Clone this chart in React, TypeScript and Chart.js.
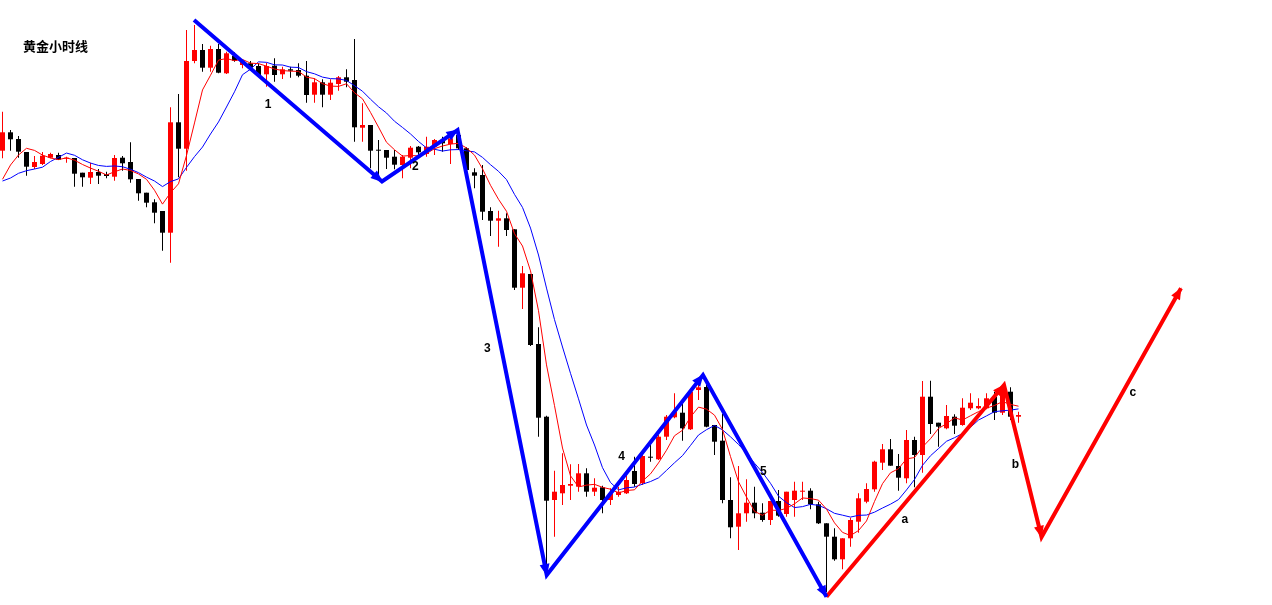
import React, { useEffect, useRef } from "react";
import { Chart, registerables } from "chart.js";

Chart.register(...registerables);

// Closes of the hours before the first visible candle (only feed the moving averages)
const priorCloses = [1325.07, 1322.13, 1322.73, 1324.10, 1324.62, 1320.92, 1321.83, 1321.98, 1326.85];

const open = [
  1326.93, 1328.77, 1328.10, 1326.80, 1325.30, 1325.60, 1326.23, 1326.50, 1326.13, 1326.20,
  1324.73, 1324.23, 1324.80, 1324.60, 1324.33, 1326.23, 1325.80, 1324.10, 1322.73, 1321.77,
  1320.90, 1318.73, 1329.77, 1327.13, 1335.90, 1337.00, 1335.23, 1337.10, 1334.67, 1336.43,
  1335.50, 1335.67, 1335.40, 1334.57, 1335.43, 1334.57, 1335.07, 1335.00, 1334.43, 1332.53,
  1333.77, 1332.53, 1333.60, 1334.27, 1334.00, 1329.23, 1329.50, 1327.00, 1327.00, 1326.33,
  1325.50, 1326.23, 1327.33, 1326.60, 1327.33, 1328.00, 1327.60, 1328.50, 1327.17, 1324.77,
  1324.50, 1320.90, 1319.93, 1320.17, 1319.07, 1313.23, 1314.60, 1307.60, 1300.33, 1292.00,
  1292.67, 1293.43, 1293.33, 1294.67, 1292.83, 1293.27, 1292.00, 1292.50, 1292.67, 1294.90,
  1293.67, 1296.33, 1296.07, 1298.33, 1300.27, 1300.73, 1299.07, 1303.00, 1303.30, 1299.50,
  1297.93, 1292.00, 1289.33, 1290.67, 1291.73, 1290.73, 1290.00, 1291.90, 1290.60, 1292.00,
  1292.83, 1292.93, 1291.57, 1289.67, 1288.33, 1286.07, 1288.17, 1289.83, 1291.83, 1293.07,
  1295.73, 1297.07, 1295.40, 1294.17, 1298.00, 1296.50, 1302.33, 1299.73, 1299.17, 1300.33,
  1299.50, 1301.17, 1301.17, 1301.17, 1302.33, 1300.73, 1302.83, 1300.33,
];

const high = [
  1330.83, 1329.00, 1328.40, 1326.80, 1326.40, 1326.80, 1326.73, 1326.73, 1326.33, 1326.20,
  1324.73, 1325.73, 1325.10, 1324.83, 1326.50, 1326.40, 1327.77, 1324.10, 1322.73, 1322.07,
  1320.90, 1331.27, 1332.60, 1339.00, 1339.50, 1337.60, 1337.43, 1337.60, 1336.83, 1336.77,
  1336.07, 1335.90, 1335.67, 1335.73, 1336.17, 1335.33, 1335.33, 1335.67, 1335.90, 1334.17,
  1334.07, 1334.07, 1334.40, 1335.07, 1338.10, 1331.67, 1329.50, 1328.00, 1327.00, 1327.00,
  1326.50, 1327.40, 1327.40, 1328.33, 1328.10, 1328.33, 1328.73, 1329.00, 1327.27, 1325.17,
  1325.50, 1321.27, 1320.93, 1320.67, 1319.07, 1315.40, 1314.60, 1309.27, 1300.43, 1294.93,
  1296.67, 1295.57, 1295.60, 1295.17, 1294.17, 1293.43, 1293.17, 1293.33, 1294.90, 1296.33,
  1296.50, 1297.50, 1298.50, 1300.50, 1302.67, 1301.67, 1303.00, 1304.00, 1303.50, 1299.50,
  1300.60, 1294.27, 1295.40, 1294.07, 1293.33, 1291.67, 1291.90, 1293.00, 1292.83, 1293.83,
  1293.83, 1293.17, 1291.83, 1289.67, 1289.17, 1288.17, 1290.23, 1292.67, 1293.67, 1295.93,
  1297.60, 1298.10, 1296.60, 1299.00, 1298.33, 1303.90, 1303.93, 1299.73, 1301.50, 1300.57,
  1302.17, 1302.67, 1302.17, 1302.67, 1302.83, 1303.33, 1303.27, 1300.83,
];

const low = [
  1326.17, 1326.93, 1326.23, 1324.43, 1325.10, 1325.50, 1326.17, 1326.00, 1325.73, 1323.33,
  1323.33, 1323.60, 1323.60, 1324.17, 1323.93, 1324.93, 1323.73, 1321.93, 1321.27, 1319.67,
  1316.93, 1315.73, 1324.27, 1324.93, 1335.67, 1334.83, 1334.83, 1334.67, 1334.60, 1335.83,
  1335.17, 1335.10, 1334.33, 1333.33, 1333.83, 1334.10, 1334.23, 1334.27, 1331.73, 1331.73,
  1331.27, 1332.00, 1332.93, 1333.27, 1327.83, 1327.83, 1325.17, 1324.33, 1325.10, 1325.07,
  1324.17, 1325.17, 1326.33, 1326.33, 1326.50, 1326.83, 1325.60, 1327.00, 1324.83, 1323.17,
  1320.00, 1318.40, 1317.33, 1318.40, 1313.00, 1311.10, 1307.40, 1298.33, 1285.40, 1288.33,
  1291.50, 1292.00, 1292.83, 1292.33, 1292.40, 1290.67, 1291.50, 1292.33, 1292.60, 1293.33,
  1293.50, 1295.83, 1296.00, 1298.00, 1300.17, 1297.93, 1299.00, 1302.00, 1299.27, 1296.50,
  1291.67, 1288.17, 1287.00, 1289.83, 1290.17, 1289.83, 1289.50, 1290.33, 1290.33, 1290.33,
  1292.00, 1291.07, 1289.60, 1282.80, 1285.93, 1285.07, 1287.33, 1288.73, 1291.67, 1292.83,
  1295.00, 1295.43, 1292.93, 1293.67, 1293.27, 1294.73, 1298.60, 1297.33, 1299.07, 1298.60,
  1299.43, 1301.00, 1301.07, 1301.07, 1300.00, 1300.50, 1300.00, 1299.73,
];

const close = [
  1328.77, 1328.07, 1326.83, 1325.33, 1325.80, 1326.43, 1326.60, 1326.03, 1326.23, 1324.63,
  1324.27, 1324.80, 1324.43, 1324.40, 1326.20, 1325.67, 1324.07, 1322.67, 1321.73, 1320.73,
  1318.73, 1329.77, 1327.13, 1335.90, 1337.00, 1335.23, 1337.10, 1334.73, 1336.67, 1335.93,
  1335.83, 1335.27, 1334.50, 1335.40, 1334.50, 1335.07, 1334.93, 1334.43, 1332.50, 1333.77,
  1332.53, 1333.73, 1334.27, 1333.83, 1329.27, 1329.50, 1326.93, 1326.93, 1326.23, 1325.53,
  1326.33, 1327.23, 1326.77, 1327.33, 1328.00, 1327.67, 1328.17, 1327.17, 1325.00, 1324.43,
  1320.83, 1319.93, 1320.17, 1319.00, 1313.23, 1314.67, 1307.50, 1300.23, 1291.93, 1292.83,
  1293.50, 1293.60, 1294.67, 1292.83, 1293.23, 1292.00, 1292.67, 1292.83, 1294.00, 1293.60,
  1296.40, 1296.23, 1298.33, 1300.33, 1300.83, 1299.17, 1302.83, 1303.27, 1299.33, 1297.83,
  1292.00, 1289.27, 1290.67, 1291.73, 1290.67, 1290.00, 1291.90, 1290.43, 1292.83, 1292.93,
  1292.93, 1291.57, 1289.67, 1288.33, 1286.07, 1288.17, 1290.00, 1292.17, 1293.10, 1295.83,
  1297.07, 1295.43, 1294.23, 1298.00, 1296.50, 1302.33, 1299.60, 1299.33, 1300.40, 1299.43,
  1301.23, 1301.73, 1301.40, 1302.17, 1300.73, 1303.17, 1300.33, 1300.50,
];

// Wave annotation pivots (candle index, price)
const blueWaveX = [23.94, 47.44, 56.88, 68.03, 87.56, 103.0];
const blueWaveY = [1340.0, 1323.85, 1329.0, 1284.5, 1304.5, 1282.33];
const redWaveX = [103.0, 125.19, 129.88, 147.31];
const redWaveY = [1282.33, 1303.5, 1288.3, 1313.17];

const waveLabels = ["1", "2", "3", "4", "5", "a", "b", "c"];
const labelX = [33.2, 51.6, 60.6, 77.4, 95.1, 112.8, 126.6, 141.3];
const labelY = [1331.5, 1325.3, 1307.1, 1296.3, 1294.8, 1290.0, 1295.5, 1302.7];

const title = "黄金小时线";

const X_MIN = -0.3125;
const X_MAX = 158.6875;
const Y_MIN = 1281.5;
const Y_MAX = 1342;

function sma(values: number[], period: number, skip: number): number[] {
  const out: number[] = [];
  for (let i = skip; i < values.length; i++) {
    let s = 0;
    for (let k = 0; k < period; k++) s += values[i - k];
    out.push(s / period);
  }
  return out;
}

const annotPlugin = {
  id: "waveAnnot",
  afterDatasetsDraw(chart: any) {
    const ctx = chart.ctx as CanvasRenderingContext2D;
    chart.data.datasets.forEach((ds: any, di: number) => {
      if (!ds.arrowHeads) return;
      const meta = chart.getDatasetMeta(di);
      for (let j = 1; j < meta.data.length; j++) {
        const a = meta.data[j - 1];
        const b = meta.data[j];
        const ang = Math.atan2(b.y - a.y, b.x - a.x);
        const c = Math.cos(ang);
        const s = Math.sin(ang);
        const L = 11;
        const W = 5;
        ctx.save();
        ctx.fillStyle = ds.borderColor;
        ctx.beginPath();
        ctx.moveTo(b.x + c, b.y + s);
        ctx.lineTo(b.x - L * c + W * s, b.y - L * s - W * c);
        ctx.lineTo(b.x - L * c - W * s, b.y - L * s + W * c);
        ctx.closePath();
        ctx.fill();
        ctx.restore();
      }
    });
    const xs = chart.scales.x;
    const ys = chart.scales.y;
    ctx.save();
    ctx.font = 'bold 12px "Liberation Sans", Arial, sans-serif';
    ctx.fillStyle = "#000000";
    ctx.textAlign = "center";
    ctx.textBaseline = "middle";
    waveLabels.forEach((t, i) => {
      ctx.fillText(t, xs.getPixelForValue(labelX[i]), ys.getPixelForValue(labelY[i]));
    });
    ctx.restore();
  },
};

export default function App() {
  const ref = useRef<HTMLCanvasElement>(null);

  useEffect(() => {
    const idx = open.map((_, i) => i);
    const colors = idx.map((i) => (close[i] >= open[i] ? "#FF0000" : "#000000"));
    const allCloses = [...priorCloses, ...close];
    const ma5 = sma(allCloses, 5, priorCloses.length);
    const ma10 = sma(allCloses, 10, priorCloses.length);

    const chart = new Chart(ref.current as HTMLCanvasElement, {
      type: "bar",
      data: {
        datasets: [
          {
            type: "line",
            label: "wave 1-5",
            data: blueWaveX.map((x, i) => ({ x, y: blueWaveY[i] })),
            borderColor: "#0000FF",
            backgroundColor: "#0000FF",
            borderWidth: 4,
            pointRadius: 0,
            tension: 0,
            order: 0,
            arrowHeads: true,
          } as any,
          {
            type: "line",
            label: "wave a-c",
            data: redWaveX.map((x, i) => ({ x, y: redWaveY[i] })),
            borderColor: "#FF0000",
            backgroundColor: "#FF0000",
            borderWidth: 4,
            pointRadius: 0,
            tension: 0,
            order: 0,
            arrowHeads: true,
          } as any,
          {
            type: "line",
            label: "MA5",
            data: idx.map((i) => ({ x: i, y: ma5[i] })),
            borderColor: "#FF0000",
            borderWidth: 1,
            pointRadius: 0,
            tension: 0,
            order: 1,
          },
          {
            type: "line",
            label: "MA10",
            data: idx.map((i) => ({ x: i, y: ma10[i] })),
            borderColor: "#0000FF",
            borderWidth: 1,
            pointRadius: 0,
            tension: 0,
            order: 1,
          },
          {
            type: "bar",
            label: "body",
            data: idx.map((i) => ({ x: i, y: [open[i], close[i]] })),
            backgroundColor: colors,
            borderWidth: 0,
            grouped: false,
            maxBarThickness: 5,
            minBarLength: 1,
            inflateAmount: 0,
            order: 2,
          } as any,
          {
            type: "bar",
            label: "wick",
            data: idx.map((i) => ({ x: i, y: [low[i], high[i]] })),
            backgroundColor: colors,
            borderWidth: 0,
            grouped: false,
            maxBarThickness: 1,
            inflateAmount: 0,
            order: 3,
          } as any,
        ],
      },
      options: {
        responsive: false,
        animation: false,
        devicePixelRatio: 1,
        events: [],
        layout: { autoPadding: false, padding: 0 },
        plugins: {
          legend: { display: false },
          tooltip: { enabled: false },
          title: { display: false },
        },
        scales: {
          x: {
            type: "linear",
            min: X_MIN,
            max: X_MAX,
            offset: false,
            display: false,
            ticks: { includeBounds: false, stepSize: 50 },
          },
          y: {
            type: "linear",
            min: Y_MIN,
            max: Y_MAX,
            display: false,
            beginAtZero: false,
          },
        },
      },
      plugins: [annotPlugin],
    });
    return () => chart.destroy();
  }, []);

  return (
    <div
      style={{
        position: "fixed",
        left: 0,
        top: 0,
        width: 1272,
        height: 605,
        background: "#ffffff",
        overflow: "hidden",
      }}
    >
      <canvas ref={ref} width={1272} height={605} style={{ display: "block" }} />
      <div
        style={{
          position: "absolute",
          left: 23,
          top: 39,
          font: 'bold 13px "Noto Sans CJK SC", sans-serif',
          lineHeight: "13px",
          color: "#000000",
          whiteSpace: "nowrap",
        }}
      >
        {title}
      </div>
    </div>
  );
}
